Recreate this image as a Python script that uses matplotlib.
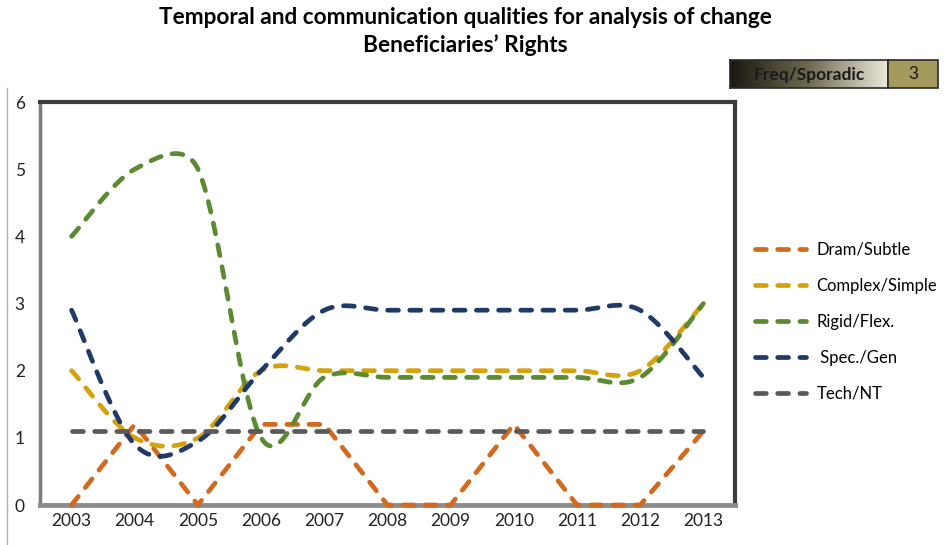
import numpy as np
import matplotlib.pyplot as plt
from matplotlib.lines import Line2D
from matplotlib.patches import Rectangle
from matplotlib.colors import LinearSegmentedColormap

plt.rcParams['font.family'] = ['Lato', 'DejaVu Sans']

years = ['2003', '2004', '2005', '2006', '2007', '2008',
         '2009', '2010', '2011', '2012', '2013']

dram_subtle = [0, 1.2, 0, 1.2, 1.2, 0, 0, 1.2, 0, 0, 1.1]
complex_simple = [2, 1, 1, 2, 2, 2, 2, 2, 2, 2, 3]
rigid_flex = [4, 5, 5, 1, 1.9, 1.9, 1.9, 1.9, 1.9, 1.9, 3]
spec_gen = [2.9, 0.9, 0.95, 2, 2.9, 2.9, 2.9, 2.9, 2.9, 2.9, 1.9]
tech_nt = [1.1] * 11

freq_label = 'Freq/Sporadic'
freq_value = '3'


def smooth(y, yscale, n=50):
    # bezier "smoothed line": handles are (next - prev) / 6, capped at half
    # the chord of the segment they belong to (measured in screen units)
    pts = np.column_stack([np.arange(len(y)), np.asarray(y, float) * yscale])
    out = [pts[:1]]
    t = np.linspace(0, 1, n)[1:, None]
    for i in range(len(pts) - 1):
        p1, p2 = pts[i], pts[i + 1]
        p0 = pts[i - 1] if i > 0 else p1
        p3 = pts[i + 2] if i + 2 < len(pts) else p2
        half = np.hypot(*(p2 - p1)) / 2
        h1 = (p2 - p0) / 6
        h2 = (p3 - p1) / 6
        for h in (h1, h2):
            ln = np.hypot(*h)
            if ln > half:
                h *= half / ln
        c1, c2 = p1 + h1, p2 - h2
        seg = ((1 - t) ** 3 * p1 + 3 * (1 - t) ** 2 * t * c1
               + 3 * (1 - t) * t ** 2 * c2 + t ** 3 * p2)
        out.append(seg)
    curve = np.vstack(out)
    return curve[:, 0], curve[:, 1] / yscale


W, H = 948, 545
fig = plt.figure(figsize=(W / 100, H / 100), dpi=100)
ax_w, ax_h = 735 - 40, 505 - 102
ax = fig.add_axes([40 / W, (H - 505) / H, ax_w / W, ax_h / H])

x = np.arange(len(years))
yscale = (ax_h / 6) / (ax_w / len(years))
lw = 3.4
dash = (2.3, 2.4)
series = [
    ('Dram/Subtle', dram_subtle, '#D2691F', False),
    ('Complex/Simple', complex_simple, '#D4A20C', True),
    ('Rigid/Flex.', rigid_flex, '#5B8A33', True),
    (' Spec./Gen', spec_gen, '#1F3A66', True),
    ('Tech/NT', tech_nt, '#5A5A5A', False),
]
for name, vals, color, smoothed in series:
    if smoothed:
        xs, ys = smooth(vals, yscale)
    else:
        xs, ys = x, vals
    ax.plot(xs, ys, color=color, lw=lw, dashes=dash, dash_capstyle='round',
            label=name, zorder=3, clip_on=False)

ax.set_xlim(-0.5, len(years) - 0.5)
ax.set_ylim(0, 6)
ax.set_xticks(x)
ax.set_xticklabels(years, fontsize=12.5)
ax.set_yticks(range(7))
ax.tick_params(axis='both', length=0, colors='#222222')
ax.tick_params(axis='y', pad=11, labelsize=12.5)
ax.tick_params(axis='x', pad=6)

ax.spines['top'].set_color('#3c3c3c')
ax.spines['right'].set_color('#3c3c3c')
ax.spines['top'].set_linewidth(3)
ax.spines['right'].set_linewidth(3)
ax.spines['left'].set_color('#7a7a7a')
ax.spines['left'].set_linewidth(2.5)
ax.spines['bottom'].set_color('#8c8c8c')
ax.spines['bottom'].set_linewidth(3.5)

# thin axis line at the far left
fig.add_artist(Line2D([7 / W, 7 / W], [0, (H - 88) / H], color='#b0b0b0', lw=1))

fig.text(465 / W, 1 - 17 / H, 'Temporal and communication qualities for analysis of change',
         ha='center', va='center', fontsize=16.3, fontweight='bold')
fig.text(465 / W, 1 - 45 / H, 'Beneficiaries\u2019 Rights',
         ha='center', va='center', fontsize=16.3, fontweight='bold')

ax.legend(loc='upper left', bbox_to_anchor=(748 / W, 1 - 235 / H),
          bbox_transform=fig.transFigure, frameon=False, fontsize=12,
          handlelength=3.1, handletextpad=0.6, labelspacing=1.2,
          borderaxespad=0)

# frequency badge
grad_ax = fig.add_axes([730 / W, (H - 88) / H, 158 / W, 28 / H])
cmap = LinearSegmentedColormap.from_list('badge', ['#1a1810', '#6e6a50', '#ece9dc'])
grad_ax.imshow(np.linspace(0, 1, 256)[None, :], aspect='auto', cmap=cmap,
               extent=(0, 1, 0, 1))
grad_ax.set_xticks([])
grad_ax.set_yticks([])
for s in grad_ax.spines.values():
    s.set_color('#2a2a2a')
    s.set_linewidth(1.2)
grad_ax.text(0.5, 0.47, freq_label, ha='center', va='center', fontsize=12.5,
             fontweight='bold', color='#1a1a1a', transform=grad_ax.transAxes)
fig.add_artist(Rectangle((888 / W, (H - 88) / H), 50 / W, 28 / H,
                         transform=fig.transFigure, facecolor='#A49A5E',
                         edgecolor='#2a2a2a', lw=1.2))
fig.text(913 / W, 1 - 74 / H, freq_value, ha='center', va='center',
         fontsize=12.5, color='#1a1a1a')

fig.savefig('out.png', dpi=100)
